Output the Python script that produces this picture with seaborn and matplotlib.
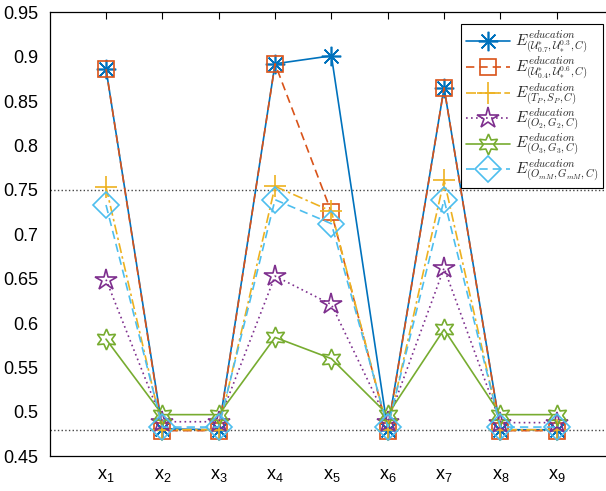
import numpy as np
import matplotlib
matplotlib.use("Agg")
import matplotlib.pyplot as plt
import seaborn as sns

sns.set_theme(style="white")
plt.rcParams['font.family'] = ['Liberation Sans', 'DejaVu Sans']
plt.rcParams['mathtext.fontset'] = 'cm'

labels = ["x1", "x2", "x3", "x4", "x5", "x6", "x7", "x8", "x9"]
xpos = np.arange(1, 10)

u07 = [0.886, 0.481, 0.480, 0.892, 0.901, 0.480, 0.865, 0.480, 0.480]
u04 = [0.886, 0.479, 0.479, 0.892, 0.725, 0.479, 0.865, 0.479, 0.479]
tp_sp = [0.753, 0.480, 0.480, 0.754, 0.726, 0.480, 0.761, 0.480, 0.480]
o2_g2 = [0.649, 0.489, 0.489, 0.653, 0.621, 0.489, 0.662, 0.488, 0.488]
o3_g3 = [0.582, 0.497, 0.497, 0.584, 0.560, 0.497, 0.593, 0.497, 0.497]
omm = [0.733, 0.483, 0.483, 0.739, 0.712, 0.483, 0.739, 0.483, 0.483]

ref_lines = [0.75, 0.48]

series = [
    (u07, r'$E^{education}_{(\mathcal{U}^{*}_{0.7},\mathcal{U}^{0.3}_{*},C)}$', '#0072BD', '-', (8, 2, 0), 14),
    (u04, r'$E^{education}_{(\mathcal{U}^{*}_{0.4},\mathcal{U}^{0.6}_{*},C)}$', '#D95319', (0, (5, 3)), 's', 12),
    (tp_sp, r'$E^{education}_{(T_P,S_P,C)}$', '#EDB120', (0, (6, 2, 1.5, 2)), '+', 16),
    (o2_g2, r'$E^{education}_{(O_2,G_2,C)}$', '#7E2F8E', (0, (1, 2)), '*', 16),
    (o3_g3, r'$E^{education}_{(O_3,G_3,C)}$', '#77AC30', '-', (6, 1, 0), 15),
    (omm, r'$E^{education}_{(O_{mM},G_{mM},C)}$', '#4DBEEE', (0, (5, 3)), 'D', 13),
]

fig = plt.figure(figsize=(6.06, 4.91), dpi=100)
ax = fig.add_axes([0.082, 0.0705, 0.9297, 0.9045])

for vals, lab, col, ls, mk, ms in series:
    sns.lineplot(x=xpos, y=vals, ax=ax, color=col, linestyle=ls, marker=mk,
                 markersize=ms, markerfacecolor='none', markeredgecolor=col,
                 markeredgewidth=1.2, linewidth=1.2, label=lab)

for yv in ref_lines:
    ax.axhline(yv, color='#444444', linestyle=':', linewidth=1.0, zorder=0)

ax.set_xlim(0, 10)
ax.set_ylim(0.45, 0.95)
ax.set_xticks(xpos)
ax.set_xticklabels([r'$\mathregular{x_{%s}}$' % l[1:] for l in labels])
ax.set_yticks(np.arange(0.45, 0.951, 0.05))
ax.set_yticklabels(['0.45', '0.5', '0.55', '0.6', '0.65', '0.7', '0.75',
                    '0.8', '0.85', '0.9', '0.95'])
ax.tick_params(direction='in', top=True, right=True, length=5, width=0.8,
               labelsize=13, colors='black', pad=8)
for sp in ax.spines.values():
    sp.set_color('black')
    sp.set_linewidth(0.9)

leg = ax.legend(loc='upper right', bbox_to_anchor=(0.982, 0.974),
                borderaxespad=0, fontsize=11, handlelength=2.9,
                labelspacing=-0.05, handletextpad=0.3, borderpad=0.3,
                fancybox=False, framealpha=1)
leg.get_frame().set_edgecolor('black')
leg.get_frame().set_linewidth(0.8)

fig.savefig("out.png", dpi=100)
